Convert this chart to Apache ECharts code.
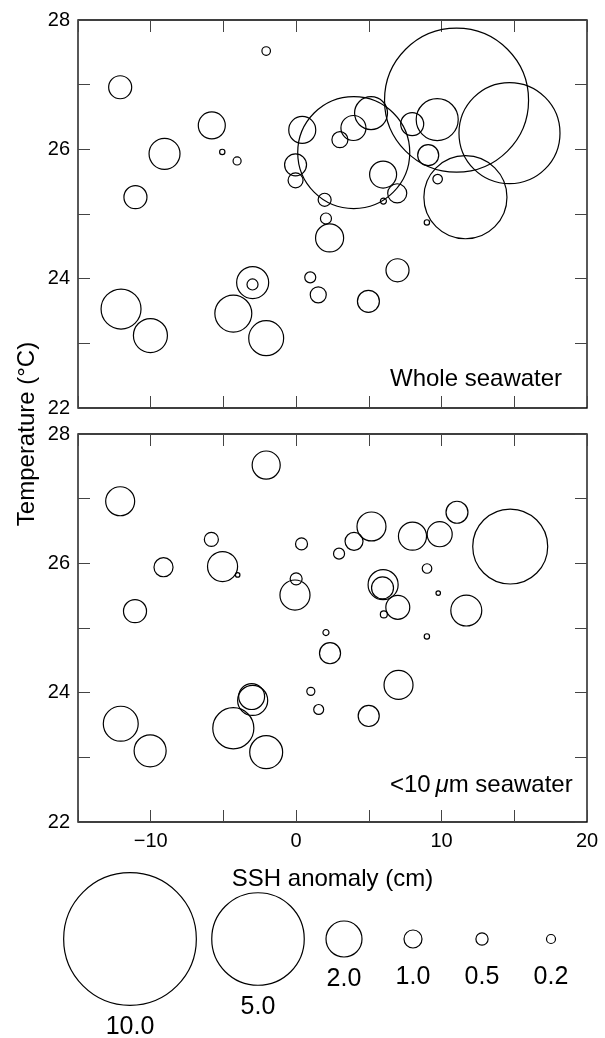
<!DOCTYPE html>
<html>
<head>
<meta charset="utf-8">
<script src="https://cdn.jsdelivr.net/npm/echarts@6/dist/echarts.min.js"></script>
<style>
html,body{margin:0;padding:0;background:#fff;}
#chart{width:605px;height:1038px;}
</style>
</head>
<body>
<div id="chart"></div>
<script>
// ---- Data: Whole seawater (top panel) ----
const SSH_TOP  = [-12.1, -5.8, -9.05, -5.08, -4.06, -11.05, -12.04, -10.02, -4.32, -2.99, -3.0, -2.06, -2.06,
                  0.42, -0.04, -0.04, 3.96, 3.01, 3.94, 5.15, 7.98, 5.98, 6.95, 6.0, 1.96, 2.05, 2.3, 0.97, 1.52,
                  4.97, 6.97, 11.03, 9.7, 9.08, 9.73, 8.99, 14.67, 11.64];
const TEMP_TOP = [26.96, 26.37, 25.93, 25.96, 25.82, 25.26, 23.53, 23.12, 23.46, 23.94, 23.91, 23.08, 27.52,
                  26.30, 25.76, 25.52, 25.95, 26.15, 26.33, 26.56, 26.39, 25.61, 25.32, 25.2, 25.22, 24.93, 24.63, 24.02, 23.75,
                  23.65, 24.13, 26.76, 26.46, 25.91, 25.54, 24.87, 26.25, 25.26];
const CONC_TOP = [1.28, 1.5, 1.72, 0.07, 0.16, 1.28, 2.21, 1.89, 2.05, 1.78, 0.39, 1.94, 0.18,
                  1.5, 1.22, 0.74, 7.43, 0.83, 1.39, 1.83, 1.28, 1.5, 1.06, 0.09, 0.57, 0.39, 1.56, 0.39, 0.83,
                  1.22, 1.28, 11.78, 2.32, 1.17, 0.25, 0.07, 6.06, 4.5];

// ---- Data: <10 um seawater (bottom panel) ----
const SSH_BOT  = [-12.1, -5.83, -9.12, -5.06, -4.02, -11.08, -12.06, -10.04, -4.32, -3.06, -2.99, -2.06, -2.06,
                  0.37, 0.0, -0.08, 2.95, 3.98, 5.18, 8.0, 5.98, 5.94, 6.99, 6.03, 2.05, 2.33, 1.01, 1.55,
                  4.99, 7.04, 9.0, 8.99, 11.06, 9.87, 14.72, 9.77, 11.7];
const TEMP_BOT = [26.96, 26.37, 25.94, 25.95, 25.82, 25.26, 23.52, 23.10, 23.45, 23.94, 23.88, 23.08, 27.52,
                  26.30, 25.76, 25.51, 26.15, 26.34, 26.57, 26.42, 25.67, 25.62, 25.32, 25.21, 24.93, 24.61, 24.02, 23.74,
                  23.64, 24.12, 25.92, 24.87, 26.79, 26.45, 26.26, 25.54, 25.27];
const CONC_BOT = [1.61, 0.66, 1.06, 1.67, 0.05, 1.28, 1.94, 1.78, 2.27, 1.44, 1.67, 1.83, 1.56,
                  0.48, 0.48, 1.67, 0.39, 1.0, 1.61, 1.56, 1.67, 1.22, 1.33, 0.12, 0.09, 1.17, 0.16, 0.29,
                  1.17, 1.61, 0.25, 0.07, 1.22, 1.39, 4.07, 0.05, 1.72];

// ---- Legend and ticks ----
const LEGEND_VALUES = [10, 5, 2, 1, 0.5, 0.2];
const LEGEND_LABELS = ['10.0', '5.0', '2.0', '1.0', '0.5', '0.2'];
const X_TICK_LABELS = {'-10': '\u221210', '0': '0', '10': '10', '20': '20'};
const Y_TICK_LABELS = {'22': '22', '24': '24', '26': '26', '28': '28'};

// ---- Size scale (value -> symbol diameter), following the legend ----
const SCALE_V = [0.2, 0.5, 1, 2, 5, 10];
const SCALE_D = [9, 12.2, 18, 36, 92.5, 132.7];
function diam(v) {
  if (v <= SCALE_V[0]) return SCALE_D[0] * Math.sqrt(v / SCALE_V[0]);
  const n = SCALE_V.length - 1;
  if (v >= SCALE_V[n]) return SCALE_D[n] * Math.sqrt(v / SCALE_V[n]);
  for (let i = 0; i < n; i++) {
    if (v <= SCALE_V[i + 1]) {
      const f = (v - SCALE_V[i]) / (SCALE_V[i + 1] - SCALE_V[i]);
      return SCALE_D[i] + f * (SCALE_D[i + 1] - SCALE_D[i]);
    }
  }
}

// layout for legend slots (units of the hidden legend axis)
const LEGEND_SLOT_X = [130, 258, 344, 413, 482, 551];

const FONT = '"Liberation Sans", Arial, Helvetica, sans-serif';
const zip = (a, b, c) => a.map((v, i) => [v, b[i], c[i]]);

const tickStyle = {show: true, inside: true, length: 12, lineStyle: {color: '#444', width: 1}};
function xAx(grid, pos, labels) {
  return {
    type: 'value', gridIndex: grid, position: pos, min: -15, max: 20, interval: 5,
    axisLine: {show: false, onZero: false}, splitLine: {show: false}, axisTick: tickStyle,
    axisLabel: labels ? {
      show: true, margin: 9, color: '#000', fontSize: 20, fontFamily: FONT,
      formatter: v => X_TICK_LABELS[String(v)] || ''
    } : {show: false}
  };
}
function yAx(grid, pos, labels) {
  return {
    type: 'value', gridIndex: grid, position: pos, min: 22, max: 28, interval: 1,
    axisLine: {show: false, onZero: false}, splitLine: {show: false}, axisTick: tickStyle,
    axisLabel: labels ? {
      show: true, margin: 8, color: '#000', fontSize: 20, fontFamily: FONT,
      formatter: v => Y_TICK_LABELS[String(v)] || ''
    } : {show: false}
  };
}

const circleStyle = {color: 'rgba(0,0,0,0)', borderColor: '#000', borderWidth: 1.2, opacity: 1};

const xAxes = [xAx(0, 'bottom', false), xAx(0, 'top', false), xAx(1, 'bottom', true), xAx(1, 'top', false),
  {type: 'value', gridIndex: 2, min: 0, max: 605, show: false}];
xAxes[2].name = 'SSH anomaly (cm)';
xAxes[2].nameLocation = 'middle';
xAxes[2].nameGap = 45;
xAxes[2].nameTextStyle = {fontSize: 24, color: '#000', fontFamily: FONT};

const legendData = LEGEND_VALUES.map((v, i) => {
  const r = diam(v) / 2;
  return {
    value: [LEGEND_SLOT_X[i], 0.5, v],
    label: {distance: Math.max(9, 964.5 - 939 - r), color: '#000', opacity: 1}
  };
});

const option = {
  animation: false,
  backgroundColor: '#fff',
  grid: [
    {left: 78, right: 18, top: 20, height: 388, show: true, borderColor: '#000', borderWidth: 1.3, backgroundColor: 'transparent'},
    {left: 78, right: 18, top: 434, height: 388, show: true, borderColor: '#000', borderWidth: 1.3, backgroundColor: 'transparent'},
    {left: 0, width: 605, top: 900, height: 78, show: false}
  ],
  xAxis: xAxes,
  yAxis: [yAx(0, 'left', true), yAx(0, 'right', false), yAx(1, 'left', true), yAx(1, 'right', false),
    {type: 'value', gridIndex: 2, min: 0, max: 1, show: false}],
  series: [
    {
      type: 'scatter', xAxisIndex: 0, yAxisIndex: 0, silent: true,
      data: zip(SSH_TOP, TEMP_TOP, CONC_TOP),
      symbol: 'circle', symbolSize: d => diam(d[2]), itemStyle: circleStyle
    },
    {
      type: 'scatter', xAxisIndex: 2, yAxisIndex: 2, silent: true,
      data: zip(SSH_BOT, TEMP_BOT, CONC_BOT),
      symbol: 'circle', symbolSize: d => diam(d[2]), itemStyle: circleStyle
    },
    {
      type: 'scatter', xAxisIndex: 4, yAxisIndex: 4, silent: true,
      data: legendData,
      symbol: 'circle', symbolSize: d => diam(d[2]), itemStyle: circleStyle,
      label: {
        show: true, position: 'bottom', color: '#000', opacity: 1, fontSize: 25, fontFamily: FONT,
        textBorderWidth: 0,
        formatter: p => LEGEND_LABELS[p.dataIndex]
      }
    }
  ],
  graphic: [
    {type: 'text', left: 390, top: 367, silent: true,
      style: {text: 'Whole seawater', fontSize: 24, fontFamily: FONT, fill: '#000'}},
    {type: 'text', left: 390, top: 773, silent: true,
      style: {text: '<10\u2009{mu|\u03bc}m seawater', fontSize: 24, fontFamily: FONT, fill: '#000',
        rich: {mu: {fontSize: 24, fontStyle: 'italic', fontFamily: FONT, fill: '#000'}}}},
    {type: 'text', x: 27, y: 434, rotation: Math.PI / 2, silent: true,
      style: {text: 'Temperature (\u00b0C)', fontSize: 24, fontFamily: FONT, fill: '#000',
        align: 'center', verticalAlign: 'middle'}}
  ]
};

const chart = echarts.init(document.getElementById('chart'), null, {renderer: 'canvas'});
chart.setOption(option);
</script>
</body>
</html>
